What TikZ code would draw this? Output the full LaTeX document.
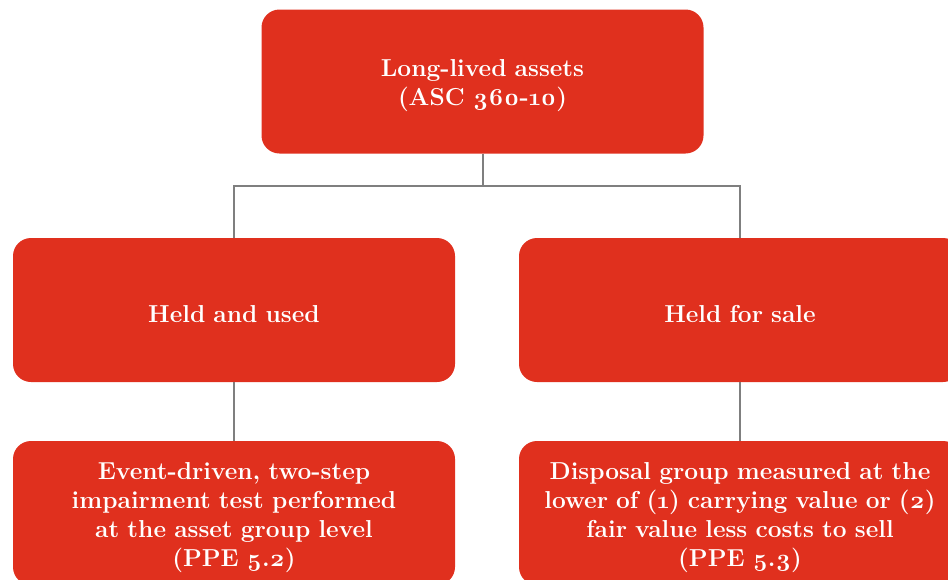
\documentclass[tikz,border=0pt]{standalone}
\usepackage{fontspec}
\setmainfont{Latin Modern Roman}[Numbers=OldStyle]
\definecolor{boxred}{HTML}{E0301E}
\definecolor{linegray}{HTML}{7F7F7F}
\tikzset{
	redbox/.style={fill=boxred, rounded corners=18pt, minimum width=442pt, minimum height=144pt,
		inner sep=0pt, text width=436pt, align=center, text=white,
		font=\bfseries\fontsize{24.5}{29}\selectfont,
		execute at begin node={\rule{0pt}{26pt}}},
	link/.style={draw=linegray, line width=2pt}
}

\begin{document}
\begin{tikzpicture}[x=1pt, y=-1pt]
			%%%%% START %%%%%
			\clip (0, 0) rectangle (948, 579);
			
			\node[redbox] (assets) at (482.5, 81.5) {Long-lived assets\\(ASC 360-10)};
			
			\node[redbox] (used) at (234, 310) {Held and used};
			\node[redbox] (sale) at (740, 310) {Held for sale};
			
			\node[redbox] (usedtest) at (234, 513) {Event-driven, two-step\\impairment test performed\\at the asset group level\\(PPE 5.2)};
			\node[redbox] (salemeas) at (740, 513) {Disposal group measured at the\\lower of (1) carrying value or (2)\\fair value less costs to sell\\(PPE 5.3)};
			
			\draw[link] (assets.south) -- ++(0, 32) -| (used.north);
			\draw[link] (assets.south) -- ++(0, 32) -| (sale.north);
			\draw[link] (used.south) -- (usedtest.north);
			\draw[link] (sale.south) -- (salemeas.north);
			%%%%% END %%%%%
\end{tikzpicture}
\end{document}
